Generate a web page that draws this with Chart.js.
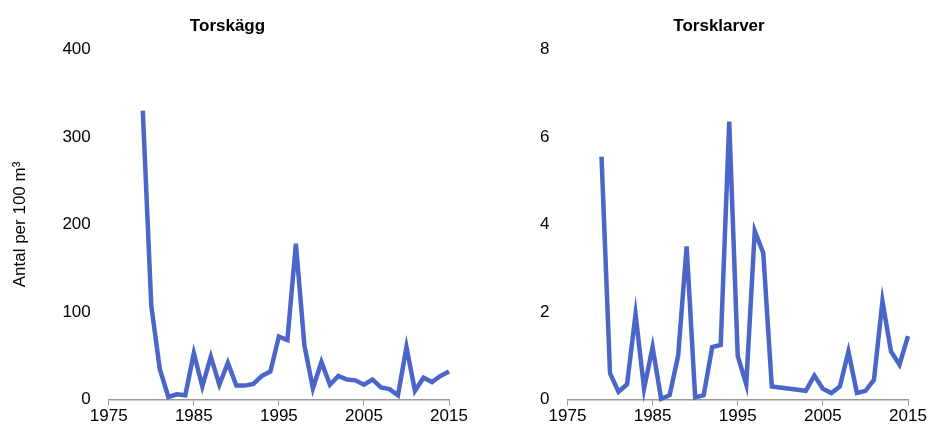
<!DOCTYPE html>
<html><head><meta charset="utf-8">
<script src="https://cdn.jsdelivr.net/npm/chart.js@4"></script>
<style>
body{margin:0;background:#fff;font-family:"Liberation Sans",Arial,sans-serif}
#a{position:absolute;left:0;top:0;width:470px;height:437px}
#b{position:absolute;left:470px;top:0;width:465px;height:437px}
</style></head><body>
<div id="a"><canvas id="c1"></canvas></div>
<div id="b"><canvas id="c2"></canvas></div>
<script>
const eggYears = [1979,1980,1981,1982,1983,1984,1985,1986,1987,1988,1989,1990,1991,1992,1993,1994,1995,1996,1997,1998,1999,2000,2001,2002,2003,2004,2005,2006,2007,2008,2009,2010,2011,2012,2013,2014,2015];
const eggValues = [330,107,35,3,6,5,53,15,49,17,42,16,16,18,27,32,72,68,178,62,13,43,17,27,23,22,17,23,14,12,5,60,10,25,20,27,32];
const larvaYears = [1979,1980,1981,1982,1983,1984,1985,1986,1987,1988,1989,1990,1991,1992,1993,1994,1995,1996,1997,1998,1999,2003,2004,2005,2006,2007,2008,2009,2010,2011,2012,2013,2014,2015];
const larvaValues = [5.55,0.6,0.18,0.35,1.95,0.25,1.2,0.02,0.1,1.0,3.5,0.05,0.1,1.2,1.25,6.35,1.0,0.35,3.85,3.35,0.3,0.2,0.55,0.25,0.15,0.3,1.1,0.15,0.2,0.45,2.25,1.1,0.8,1.45];
const xTicks = [1975,1985,1995,2005,2015];

Chart.defaults.font.family = '"Liberation Sans", Arial, sans-serif';
Chart.defaults.color = '#000';

function makeChart(id, title, years, vals, yMax, yStep, yTitle, pad) {
  new Chart(document.getElementById(id), {
    type: 'line',
    data: { datasets: [{
      data: years.map((y, i) => ({x: y, y: vals[i]})),
      borderColor: '#4a66c8', borderWidth: 4.5, pointRadius: 0, tension: 0, fill: false, clip: false
    }]},
    options: {
      responsive: true, maintainAspectRatio: false, animation: false,
      layout: { padding: pad },
      plugins: { legend: {display: false}, tooltip: {enabled: false},
        title: { display: true, text: title, font: {size: 17, weight: 'bold'}, padding: {top: 0, bottom: 13} } },
      scales: {
        x: { type: 'linear', min: 1975, max: 2015,
          afterBuildTicks: s => { s.ticks = xTicks.map(v => ({value: v})); },
          grid: { display: true, drawOnChartArea: false, color: '#999', tickLength: 6 },
          border: { color: '#999', width: 1.5 },
          ticks: { font: {size: 17}, callback: v => v, maxRotation: 0, padding: 1 } },
        y: { min: 0, max: yMax,
          ticks: { stepSize: yStep, font: {size: 17}, padding: 10 },
          grid: { display: false },
          border: { display: false },
          title: { display: !!yTitle, text: yTitle, font: {size: 17}, padding: {bottom: 22} } }
      }
    }
  });
}
makeChart('c1', 'Torskägg', eggYears, eggValues, 400, 100, 'Antal per 100 m³', {top: 16, left: 6, right: 21, bottom: 9});
makeChart('c2', 'Torsklarver', larvaYears, larvaValues, 8, 2, '', {top: 16, left: 60, right: 27, bottom: 9});
</script></body></html>
